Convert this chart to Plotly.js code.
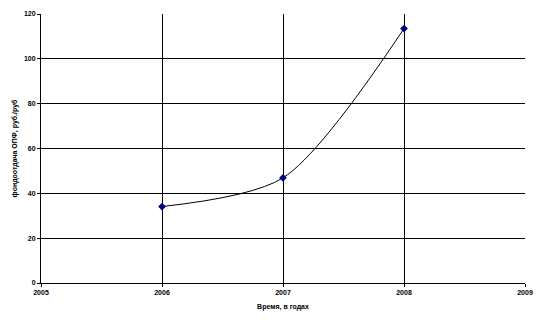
<!DOCTYPE html>
<html>
<head>
<meta charset="utf-8">
<script src="https://cdn.plot.ly/plotly-3.0.1.min.js"></script>
<style>html,body{margin:0;padding:0;background:#fff;}#chart{width:544px;height:321px;}</style>
</head>
<body>
<div id="chart"></div>
<script>
const years = [2006, 2007, 2008];
const values = [34.1, 46.9, 113.5];
const xTicks = [2005, 2006, 2007, 2008, 2009];
const yTicks = [0, 20, 40, 60, 80, 100, 120];
const xGridTicks = [2006, 2007, 2008];
const xTitle = 'Время, в годах';
const yTitle = 'фондоотдача ОПФ, руб./руб';

const tickFont = {family: 'Liberation Sans, Arial, sans-serif', size: 7, color: '#000', weight: 'bold'};

const trace = {
  x: years, y: values, type: 'scatter', mode: 'lines+markers',
  line: {shape: 'spline', smoothing: 0.8, color: '#000', width: 1},
  marker: {symbol: 'diamond', size: 6, color: '#000080'},
  hoverinfo: 'none'
};
const gridTrace = {x: [2005], y: [0], xaxis: 'x2', yaxis: 'y', mode: 'markers', marker: {opacity: 0}, hoverinfo: 'none', showlegend: false};

const layout = {
  width: 544, height: 321,
  margin: {l: 41, r: 19, t: 14, b: 38},
  paper_bgcolor: '#fff', plot_bgcolor: '#fff',
  showlegend: false,
  xaxis: {
    range: [2005, 2009], tickvals: xTicks, ticktext: xTicks.map(String),
    showgrid: false, zeroline: false, showline: true, linecolor: '#000', linewidth: 1,
    ticks: 'outside', ticklen: 3, tickcolor: '#000', tickfont: tickFont,
    title: {text: xTitle, font: tickFont, standoff: 8}
  },
  xaxis2: {
    overlaying: 'x', matches: 'x', range: [2005, 2009], tickvals: xGridTicks,
    showticklabels: false, ticks: '', showgrid: true, gridcolor: '#000', gridwidth: 1,
    zeroline: false, showline: false
  },
  yaxis: {
    range: [0, 120], tickvals: yTicks, ticktext: yTicks.map(String),
    showgrid: true, gridcolor: '#000', gridwidth: 1, zeroline: false,
    showline: true, linecolor: '#000', linewidth: 1,
    ticks: 'outside', ticklen: 3, tickcolor: '#000', tickfont: tickFont,
    title: {text: yTitle, font: tickFont, standoff: 5}
  }
};
Plotly.newPlot('chart', [gridTrace, trace], layout, {staticPlot: true, displayModeBar: false});
</script>
</body>
</html>
